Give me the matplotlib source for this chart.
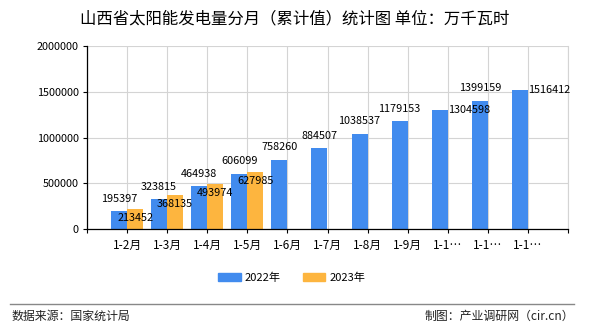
import matplotlib
matplotlib.use('Agg')
import matplotlib.pyplot as plt
import numpy as np
from matplotlib.patches import Patch

plt.rcParams['font.family'] = ['Noto Sans CJK SC', 'DejaVu Sans']

# Data
months = ['1-2月', '1-3月', '1-4月', '1-5月', '1-6月', '1-7月', '1-8月', '1-9月', '1-1…', '1-1…', '1-1…']
v2022 = [195397, 323815, 464938, 606099, 758260, 884507, 1038537, 1179153, 1304598, 1399159, 1516412]
v2023 = [213452, 368135, 493974, 627985]

blue = '#418BEE'
orange = '#FDB53F'

fig = plt.figure(figsize=(5.9, 3.3), dpi=100)
ax = fig.add_axes([87/590, 101/330, 481/590, 183/330])

x = np.arange(1, len(months) + 1)
w = 0.4
ax.bar(x - w/2, v2022, width=w, color=blue, zorder=3)
ax.bar(x[:len(v2023)] + w/2, v2023, width=w, color=orange, zorder=3)

# labels for 2022 (some pushed to the right of the bar, like the original)
right_side = {8, 10}
lsize = 7.8
for i, v in enumerate(v2022):
    if i in right_side:
        ax.annotate(str(v), (x[i], v), xytext=(0, 0), textcoords='offset points',
                    ha='left', va='center', fontsize=lsize, zorder=5)
    else:
        ax.annotate(str(v), (x[i] - w/2, v), xytext=(0, 9), textcoords='offset points',
                    ha='center', va='center', fontsize=lsize, zorder=5)
for i, v in enumerate(v2023):
    ax.annotate(str(v), (x[i] + w/2, v), xytext=(0, -6.5), textcoords='offset points',
                ha='center', va='center', fontsize=lsize, zorder=5)

ax.set_xlim(0, len(months) + 1)
ax.set_ylim(0, 2000000)
yt = np.arange(0, 2000001, 500000)
ax.set_yticks(yt)
ax.set_yticklabels([str(v) for v in yt])
ax.set_xticks(np.arange(0, len(months) + 2))
ax.set_xticklabels([''] + months + [''])
ax.tick_params(axis='both', labelsize=lsize, length=3, width=0.8, colors='black', pad=3)
ax.tick_params(axis='x', pad=4, labelsize=8.5)
ax.grid(True, color='#d4d4d4', linewidth=0.8, zorder=0)
ax.spines['top'].set_visible(False)
ax.spines['right'].set_color('#d4d4d4')
ax.spines['right'].set_linewidth(0.8)
for s in ['left', 'bottom']:
    ax.spines[s].set_linewidth(0.9)
    ax.spines[s].set_zorder(4)

# Title
fig.text(0.5, 1 - 19/330, '山西省太阳能发电量分月（累计值）统计图 单位：万千瓦时',
         ha='center', va='center', fontsize=11.8)

# Legend
handles = [Patch(color=blue, label='2022年'), Patch(color=orange, label='2023年')]
fig.legend(handles=handles, loc='center', bbox_to_anchor=(0.495, 1 - 278/330), ncol=2,
           frameon=False, fontsize=8, handlelength=2.0, handleheight=0.7,
           columnspacing=2.0, handletextpad=0.4)

# Footer
fig.add_artist(plt.Line2D([10/590, 574/590], [1 - 303.5/330] * 2, color='#888888', linewidth=1))
fig.text(12/590, 1 - 316/330, '数据来源：国家统计局', ha='left', va='center', fontsize=8.6, color='#222222')
fig.text(574/590, 1 - 316/330, '制图：产业调研网（cir.cn）', ha='right', va='center', fontsize=8.6, color='#222222')

fig.savefig('out.png', dpi=100)
